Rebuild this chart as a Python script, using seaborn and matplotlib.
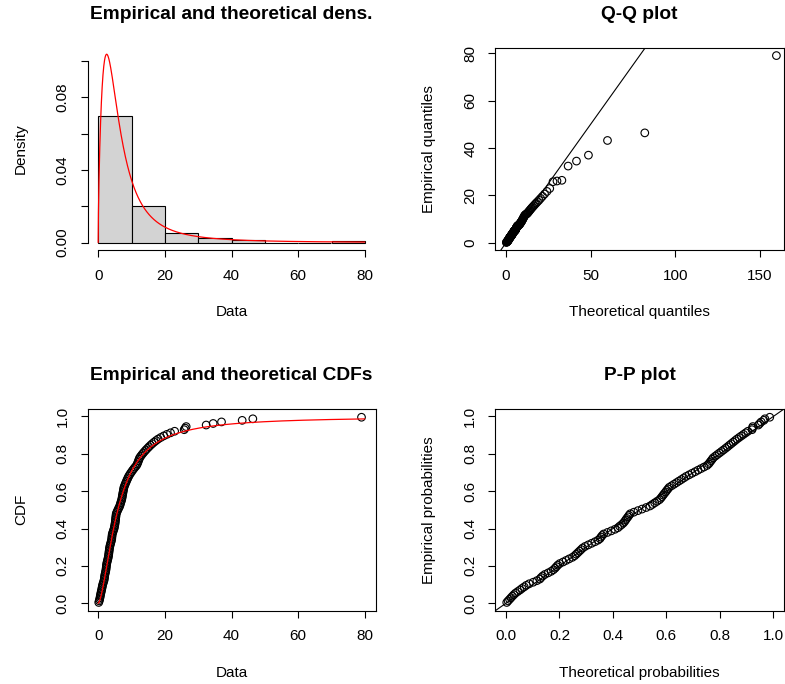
import numpy as np
import matplotlib
matplotlib.use("Agg")
import matplotlib.pyplot as plt
import seaborn as sns

data = [0.17, 0.32, 0.44, 0.54, 0.63, 0.72, 0.81, 0.92, 1.03, 1.12,
        1.22, 1.31, 1.43, 1.59, 1.73, 1.84, 1.89, 1.95, 2.03, 2.15,
        2.26, 2.34, 2.40, 2.45, 2.50, 2.57, 2.69, 2.80, 2.91, 3.03,
        3.11, 3.17, 3.23, 3.29, 3.35, 3.41, 3.50, 3.62, 3.75, 3.88,
        4.00, 4.08, 4.12, 4.17, 4.23, 4.39, 4.55, 4.71, 4.84, 4.92,
        5.01, 5.09, 5.15, 5.20, 5.25, 5.31, 5.36, 5.42, 5.60, 5.81,
        6.03, 6.26, 6.48, 6.62, 6.76, 6.91, 7.06, 7.15, 7.23, 7.31,
        7.39, 7.48, 7.56, 7.65, 7.74, 7.92, 8.11, 8.30, 8.50, 8.71,
        8.92, 9.14, 9.42, 9.72, 10.04, 10.37, 10.72, 11.10, 11.50, 11.74,
        11.91, 12.09, 12.27, 12.45, 12.78, 13.13, 13.51, 13.91, 14.33, 14.78,
        15.23, 15.71, 16.22, 16.77, 17.36, 18.00, 18.78, 19.65, 20.62, 21.71,
        22.94, 25.80, 26.10, 26.40, 32.40, 34.50, 37.00, 43.20, 46.40, 79.00]
hist_breaks = [0, 10, 20, 30, 40, 50, 60, 70, 80]

# fitted log-logistic distribution
llogis_shape = 1.66
llogis_scale = 5.9

titles = ["Empirical and theoretical dens.", "Q-Q plot",
          "Empirical and theoretical CDFs", "P-P plot"]


def pllogis(x):
    u = (np.asarray(x) / llogis_scale) ** llogis_shape
    return u / (1 + u)


def dllogis(x):
    z = np.asarray(x) / llogis_scale
    return (llogis_shape / llogis_scale) * z ** (llogis_shape - 1) / (1 + z ** llogis_shape) ** 2


def qllogis(p):
    return llogis_scale * (p / (1 - p)) ** (1 / llogis_shape)


obs = np.sort(np.array(data))
n = len(obs)
pp = (np.arange(1, n + 1) - 0.5) / n
theo_q = qllogis(pp)
theo_p = pllogis(obs)
xs = np.linspace(0, 80, 1001)

sns.set_style("ticks")
plt.rcParams['font.family'] = ['Liberation Sans', 'DejaVu Sans']
plt.rcParams['text.color'] = 'black'
plt.rcParams['axes.labelcolor'] = 'black'
plt.rcParams['xtick.color'] = 'black'
plt.rcParams['ytick.color'] = 'black'

fig = plt.figure(figsize=(7.85, 6.84), dpi=100)
W, H = 785.0, 684.0


def add_panel(x0, x1, y0, y1):
    return fig.add_axes([x0 / W, 1 - y1 / H, (x1 - x0) / W, (y1 - y0) / H])


ax1 = add_panel(87.5, 375.5, 48, 250)
ax2 = add_panel(495.3, 784.0, 48, 250)
ax3 = add_panel(87.5, 375.5, 409, 610.7)
ax4 = add_panel(495.3, 784.0, 409, 610.7)

pt_kw = dict(marker="o", s=30, facecolor="none", edgecolor="black", linewidth=0.8, legend=False)

# density panel
sns.histplot(x=obs, bins=hist_breaks, stat="density", color="#D3D3D3", edgecolor="black",
             linewidth=0.8, alpha=1, ax=ax1)
sns.lineplot(x=xs, y=dllogis(xs), color="red", linewidth=0.9, ax=ax1)
ax1.set_xlim(-3.2, 83.2)
ax1.set_ylim(-0.0041, 0.1072)
ax1.set_xticks([0, 20, 40, 60, 80])
ax1.set_yticks([0, 0.02, 0.04, 0.06, 0.08, 0.10])
ax1.set_yticklabels(["0.00", "", "0.04", "", "0.08", ""])
ax1.spines['top'].set_visible(False)
ax1.spines['right'].set_visible(False)
ax1.spines['bottom'].set_bounds(0, 80)
ax1.spines['left'].set_bounds(0, 0.10)
ax1.set_xlabel("Data")
ax1.set_ylabel("Density")

# Q-Q panel
sns.scatterplot(x=theo_q, y=obs, ax=ax2, **pt_kw)
ax2.axline((0, 0), slope=1, color="black", linewidth=0.8)
ax2.set_xlim(-6.3, 164.3)
ax2.set_ylim(-3.0, 82.2)
ax2.set_xticks([0, 50, 100, 150])
ax2.set_yticks([0, 20, 40, 60, 80])
ax2.set_xlabel("Theoretical quantiles")
ax2.set_ylabel("Empirical quantiles")

# CDF panel
sns.scatterplot(x=obs, y=pp, ax=ax3, **pt_kw)
sns.lineplot(x=xs, y=pllogis(xs), color="red", linewidth=0.9, ax=ax3)
ax3.set_xlim(-3.2, 83.2)
ax3.set_ylim(-0.04, 1.04)
ax3.set_xticks([0, 20, 40, 60, 80])
ax3.set_yticks([0, 0.2, 0.4, 0.6, 0.8, 1.0])
ax3.set_yticklabels(["0.0", "0.2", "0.4", "0.6", "0.8", "1.0"])
ax3.set_xlabel("Data")
ax3.set_ylabel("CDF")

# P-P panel
sns.scatterplot(x=theo_p, y=pp, ax=ax4, **pt_kw)
ax4.axline((0, 0), slope=1, color="black", linewidth=0.8)
ax4.set_xlim(-0.04, 1.04)
ax4.set_ylim(-0.04, 1.04)
ax4.set_xticks([0, 0.2, 0.4, 0.6, 0.8, 1.0])
ax4.set_xticklabels(["0.0", "0.2", "0.4", "0.6", "0.8", "1.0"])
ax4.set_yticks([0, 0.2, 0.4, 0.6, 0.8, 1.0])
ax4.set_yticklabels(["0.0", "0.2", "0.4", "0.6", "0.8", "1.0"])
ax4.set_xlabel("Theoretical probabilities")
ax4.set_ylabel("Empirical probabilities")

for ax, title in zip([ax1, ax2, ax3, ax4], titles):
    for sp in ax.spines.values():
        sp.set_linewidth(0.8)
        sp.set_color("black")
    ax.tick_params(direction="out", length=5, width=0.8, labelsize=11, colors="black")
    ax.tick_params(axis="x", pad=8.5)
    ax.tick_params(axis="y", labelrotation=90, pad=8)
    for lab in ax.get_yticklabels():
        lab.set_va("center")
    ax.xaxis.label.set_fontsize(11)
    ax.yaxis.label.set_fontsize(11)
    ax.xaxis.label.set_va("center")
    ax.yaxis.label.set_va("center")
    ax.xaxis.set_label_coords(0.5, -0.307)
    ax.yaxis.set_label_coords(-0.231, 0.5)
    ax.set_title(title, fontsize=13.8, fontweight="bold", y=1.165, pad=0, va="center", color="black")

fig.savefig("out.png", dpi=100)
